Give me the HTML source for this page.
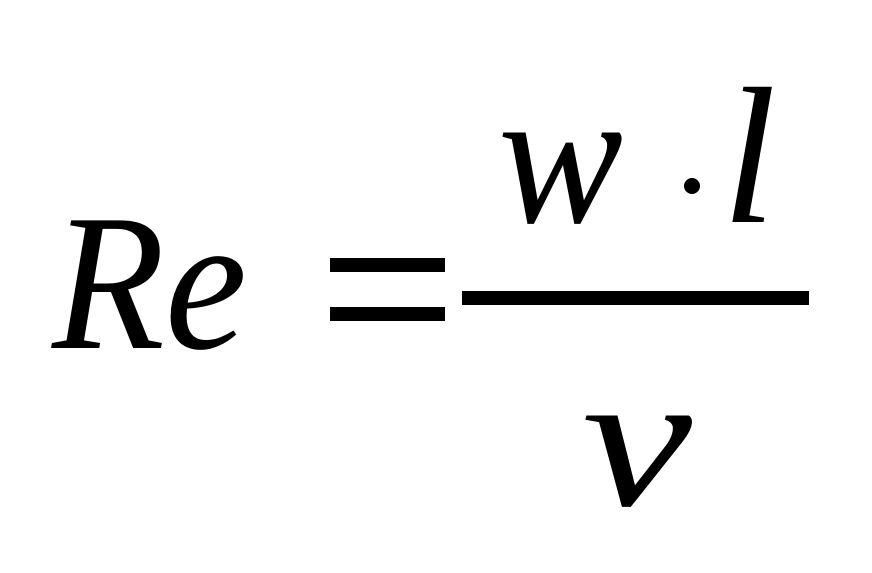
<!DOCTYPE html>
<html>
<head>
<meta charset="utf-8">
<style>
  html,body{margin:0;padding:0;background:#fff;}
  svg{display:block;}
  text{font-family:"Liberation Serif","DejaVu Serif",serif;font-style:italic;fill:#000;}
</style>
</head>
<body>
<svg width="872" height="573" viewBox="0 0 872 573" xmlns="http://www.w3.org/2000/svg">
  <rect width="872" height="573" fill="#fff"/>
  <text x="52" y="348" font-size="195" textLength="195" lengthAdjust="spacingAndGlyphs">Re</text>
  <rect x="330" y="258" width="115" height="14" fill="#000"/>
  <rect x="330" y="307" width="115" height="14" fill="#000"/>
  <rect x="462" y="291" width="347" height="14" fill="#000"/>
  <text x="498" y="222" font-size="195" textLength="125" lengthAdjust="spacingAndGlyphs">w</text>
  <circle cx="692" cy="186" r="8" fill="#000"/>
  <text x="722" y="222" font-size="195">l</text>
  <text x="582" y="505" font-size="195" textLength="110" lengthAdjust="spacingAndGlyphs">ν</text>
</svg>
</body>
</html>
